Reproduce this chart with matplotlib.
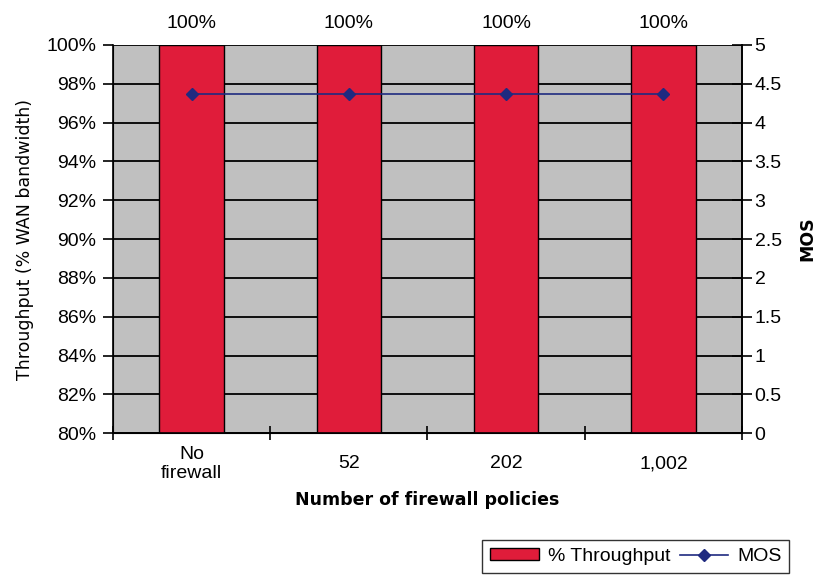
import numpy as np
import matplotlib
matplotlib.use('Agg')
import matplotlib.pyplot as plt
from matplotlib.ticker import FuncFormatter

# Data
categories = ['No\nfirewall', '52', '202', '1,002']
throughput = [100, 100, 100, 100]   # % of WAN bandwidth
mos = [4.37, 4.37, 4.37, 4.37]

bar_col = '#E01C3A'
mos_col = '#1F2A80'
bg_col = '#C0C0C0'
fs = 14

plt.rcParams['font.family'] = ['Liberation Sans', 'DejaVu Sans']

fig = plt.figure(figsize=(8.3, 5.76), dpi=100)
ax = fig.add_axes([0.136, 0.248, 0.758, 0.674])
ax.set_facecolor(bg_col)

x = np.arange(len(categories))
bars = ax.bar(x, throughput, width=0.41, color=bar_col, edgecolor='black',
              linewidth=1, zorder=2, label='% Throughput')
ax.set_ylim(80, 100)
ax.set_xlim(-0.5, len(categories) - 0.5)
ax.set_yticks(np.arange(80, 101, 2))
ax.yaxis.set_major_formatter(FuncFormatter(lambda v, p: f'{v:.0f}%'))
ax.grid(axis='y', color='black', linewidth=1.3, zorder=1)
ax.set_axisbelow(True)

for b, v in zip(bars, throughput):
    ax.text(b.get_x() + b.get_width() / 2, 100.65, f'{v}%', ha='center',
            va='bottom', fontsize=fs, clip_on=False)

# category ticks at the boundaries, labels at the centres
ax.set_xticks(np.arange(-0.5, len(categories), 1))
ax.set_xticklabels([])
ax.set_xticks(x, minor=True)
ax.set_xticklabels(categories, minor=True, fontsize=fs, linespacing=1.15,
                   va='center')
ax.tick_params(axis='x', which='minor', length=0, pad=22)
ax.tick_params(axis='x', which='major', direction='inout', length=10, width=1.2)
ax.tick_params(axis='y', direction='out', length=7, width=1.2, labelsize=fs, pad=5)

for s in ['left', 'bottom', 'right']:
    ax.spines[s].set_linewidth(1.2)
ax.spines['top'].set_visible(False)

ax.set_ylabel('Throughput (% WAN bandwidth)', fontsize=12.5, family='DejaVu Sans',
              labelpad=9)
ax.set_xlabel('Number of firewall policies', fontsize=12.5, fontweight='bold',
              family='DejaVu Sans', labelpad=7)

ax2 = ax.twinx()
line, = ax2.plot(x, mos, color=mos_col, marker='D', markersize=6,
                 linewidth=1.2, label='MOS', zorder=3)
ax2.set_ylim(0, 5)
ax2.set_yticks(np.arange(0, 5.01, 0.5))
ax2.yaxis.set_major_formatter(FuncFormatter(lambda v, p: f'{v:g}'))
ax2.tick_params(axis='y', direction='inout', length=14, width=1.2, labelsize=fs, pad=2)
ax2.spines['top'].set_visible(False)
ax2.spines['right'].set_linewidth(1.2)
ax2.set_ylabel('MOS', fontsize=12.5, fontweight='bold', family='DejaVu Sans',
               labelpad=12)

leg = fig.legend([bars, line], ['% Throughput', 'MOS'], ncol=2,
                 loc='upper right', bbox_to_anchor=(0.951, 0.062),
                 fontsize=fs, frameon=True, fancybox=False, edgecolor='black',
                 handlelength=2.5, handleheight=0.55, columnspacing=0.5,
                 handletextpad=0.45, borderpad=0.4, borderaxespad=0)
leg.get_frame().set_linewidth(1.0)

fig.savefig('out.png', dpi=100, facecolor='white')
